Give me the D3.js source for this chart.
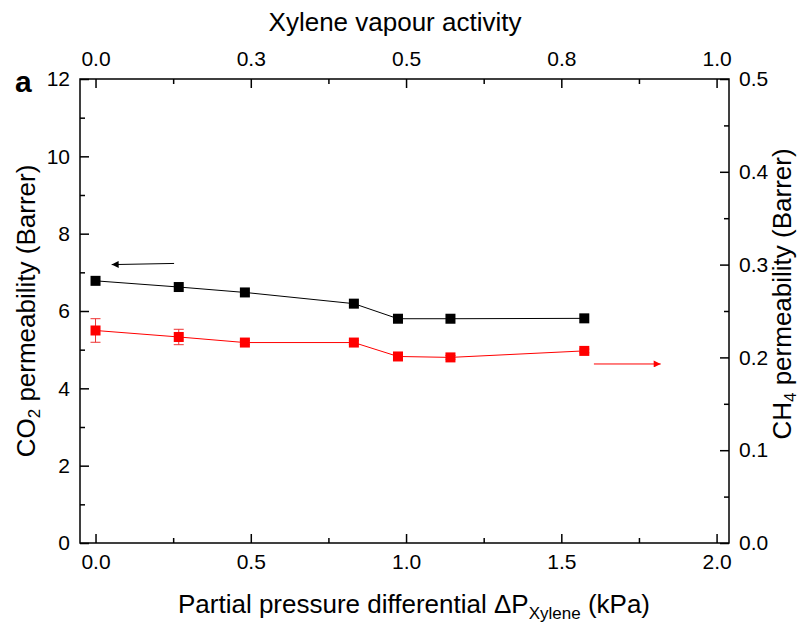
<!DOCTYPE html>
<html>
<head>
<meta charset="utf-8">
<script src="https://cdn.jsdelivr.net/npm/d3@7"></script>
<style>
  body { margin: 0; background: white; }
  text { font-family: "Liberation Sans", Arial, sans-serif; fill: black; }
</style>
</head>
<body>
<div id="chart"></div>
<script>
// data
let pressure = [0, 0.268, 0.481, 0.832, 0.974, 1.143, 1.574]      // kPa
let co2 = [6.78, 6.62, 6.48, 6.19, 5.80, 5.80, 5.81]               // Barrer, left axis
let ch4 = [0.229, 0.222, 0.216, 0.216, 0.201, 0.200, 0.207]        // Barrer, right axis
let ch4Err = [0.0127, 0.0083, 0.002, 0.002, 0.004, 0.002, 0.002]

let bottomTicks = [0, 0.5, 1.0, 1.5, 2.0]
let topTicks = [0, 0.25, 0.5, 0.75, 1.0]
let topTickLabels = ['0.0', '0.3', '0.5', '0.8', '1.0']
let leftTicks = [0, 2, 4, 6, 8, 10, 12]
let rightTicks = [0, 0.1, 0.2, 0.3, 0.4, 0.5]

// arrows pointing to each series' axis: [x0, y0] -> [x1, y1]
let co2Arrow = [[0.253, 7.23], [0.052, 7.20]]
let ch4Arrow = [[1.605, 4.63], [1.82, 4.63]]

// Margin convention
let margin = {top: 79, right: 74, left: 80, bottom: 79}
let width = 803 - margin.left - margin.right
let height = 622 - margin.top - margin.bottom

let svg = d3.select('div#chart')
  .append('svg')
    .attr('width', 803)
    .attr('height', 622)

let defs = svg.append('defs')
defs.append('marker')
    .attr('id', 'headBlack')
    .attr('viewBox', '0 0 10 10')
    .attr('refX', 10).attr('refY', 5)
    .attr('markerWidth', 16).attr('markerHeight', 7)
    .attr('markerUnits', 'userSpaceOnUse')
    .attr('orient', 'auto')
  .append('path')
    .attr('d', 'M0,0 L10,5 L0,10 z')
    .attr('fill', 'black')
defs.append('marker')
    .attr('id', 'headRed')
    .attr('viewBox', '0 0 10 10')
    .attr('refX', 10).attr('refY', 5)
    .attr('markerWidth', 16).attr('markerHeight', 7)
    .attr('markerUnits', 'userSpaceOnUse')
    .attr('orient', 'auto')
  .append('path')
    .attr('d', 'M0,0 L10,5 L0,10 z')
    .attr('fill', 'red')

let g = svg.append('g')
  .attr('transform', `translate(${margin.left}, ${margin.top})`)

let x = d3.scaleLinear().domain([-0.05, 2.04]).range([0, width])
let xTop = d3.scaleLinear().domain([-0.025, 1.02]).range([0, width])
let y = d3.scaleLinear().domain([0, 12]).range([height, 0])
let y2 = d3.scaleLinear().domain([0, 0.5]).range([height, 0])

function styleAxis(sel) {
  sel.select('.domain').remove()
  sel.selectAll('line').attr('stroke', 'black').attr('stroke-width', 1.5)
  sel.selectAll('text').style('font-size', '21px')
}

// minor ticks first, then major with labels (ticks point inward)
g.append('g').attr('transform', `translate(0, ${height})`)
  .call(d3.axisBottom(x).tickValues(d3.range(0.25, 2, 0.5)).tickSize(-5).tickFormat(''))
  .call(styleAxis)
g.append('g').attr('transform', `translate(0, ${height})`)
  .call(d3.axisBottom(x).tickValues(bottomTicks).tickSize(-9).tickPadding(11).tickFormat(d3.format('.1f')))
  .call(styleAxis)

g.append('g')
  .call(d3.axisTop(xTop).tickValues(d3.range(0.125, 1, 0.25)).tickSize(-5).tickFormat(''))
  .call(styleAxis)
g.append('g')
  .call(d3.axisTop(xTop).tickValues(topTicks).tickSize(-9).tickPadding(13).tickFormat((d, i) => topTickLabels[i]))
  .call(styleAxis)

g.append('g')
  .call(d3.axisLeft(y).tickValues(d3.range(1, 12, 2)).tickSize(-5).tickFormat(''))
  .call(styleAxis)
g.append('g')
  .call(d3.axisLeft(y).tickValues(leftTicks).tickSize(-9).tickPadding(10).tickFormat(d3.format('d')))
  .call(styleAxis)

g.append('g').attr('transform', `translate(${width}, 0)`)
  .call(d3.axisRight(y2).tickValues(d3.range(0.05, 0.5, 0.1)).tickSize(-5).tickFormat(''))
  .call(styleAxis)
g.append('g').attr('transform', `translate(${width}, 0)`)
  .call(d3.axisRight(y2).tickValues(rightTicks).tickSize(-9).tickPadding(10).tickFormat(d3.format('.1f')))
  .call(styleAxis)

// frame
g.append('rect')
  .attr('width', width)
  .attr('height', height)
  .attr('fill', 'none')
  .attr('stroke', 'black')
  .attr('stroke-width', 1.5)

// series lines
let co2Line = d3.line().x((d, i) => x(pressure[i])).y(d => y(d))
let ch4Line = d3.line().x((d, i) => x(pressure[i])).y(d => y2(d))

g.append('path')
  .attr('d', co2Line(co2))
  .attr('fill', 'none')
  .attr('stroke', 'black')
  .attr('stroke-width', 1)

g.append('path')
  .attr('d', ch4Line(ch4))
  .attr('fill', 'none')
  .attr('stroke', 'red')
  .attr('stroke-width', 1)

// error bars
let err = g.append('g').attr('stroke', '#e33').attr('stroke-width', 1)
ch4.forEach((v, i) => {
  let cx = x(pressure[i])
  let lo = y2(v - ch4Err[i]), hi = y2(v + ch4Err[i])
  err.append('line').attr('x1', cx).attr('x2', cx).attr('y1', lo).attr('y2', hi)
  err.append('line').attr('x1', cx - 5).attr('x2', cx + 5).attr('y1', lo).attr('y2', lo)
  err.append('line').attr('x1', cx - 5).attr('x2', cx + 5).attr('y1', hi).attr('y2', hi)
})

// square markers
g.append('g').selectAll('rect')
  .data(co2)
  .enter().append('rect')
  .attr('x', (d, i) => x(pressure[i]) - 5)
  .attr('y', d => y(d) - 5)
  .attr('width', 10)
  .attr('height', 10)
  .attr('fill', 'black')

g.append('g').selectAll('rect')
  .data(ch4)
  .enter().append('rect')
  .attr('x', (d, i) => x(pressure[i]) - 5)
  .attr('y', d => y2(d) - 5)
  .attr('width', 10)
  .attr('height', 10)
  .attr('fill', 'red')

// arrows
g.append('line')
  .attr('x1', x(co2Arrow[0][0])).attr('y1', y(co2Arrow[0][1]))
  .attr('x2', x(co2Arrow[1][0])).attr('y2', y(co2Arrow[1][1]))
  .attr('stroke', 'black')
  .attr('stroke-width', 1)
  .attr('marker-end', 'url(#headBlack)')

g.append('line')
  .attr('x1', x(ch4Arrow[0][0])).attr('y1', y(ch4Arrow[0][1]))
  .attr('x2', x(ch4Arrow[1][0])).attr('y2', y(ch4Arrow[1][1]))
  .attr('stroke', 'red')
  .attr('stroke-width', 1)
  .attr('marker-end', 'url(#headRed)')

// titles
svg.append('text')
  .attr('x', 395)
  .attr('y', 31)
  .attr('text-anchor', 'middle')
  .style('font-size', '26px')
  .text('Xylene vapour activity')

let xt = svg.append('text')
  .attr('x', 414)
  .attr('y', 613)
  .attr('text-anchor', 'middle')
  .style('font-size', '26px')
xt.append('tspan').text('Partial pressure differential \u0394P')
xt.append('tspan').attr('dy', 6).style('font-size', '17px').text('Xylene')
xt.append('tspan').attr('dy', -6).text(' (kPa)')

let yl = svg.append('text')
  .attr('transform', `translate(35, ${margin.top + height / 2}) rotate(-90)`)
  .attr('text-anchor', 'middle')
  .style('font-size', '26px')
yl.append('tspan').text('CO')
yl.append('tspan').attr('dy', 5).style('font-size', '17px').text('2')
yl.append('tspan').attr('dy', -5).text(' permeability (Barrer)')

let yr = svg.append('text')
  .attr('transform', 'translate(791, 294) rotate(-90)')
  .attr('text-anchor', 'middle')
  .style('font-size', '26px')
yr.append('tspan').text('CH')
yr.append('tspan').attr('dy', 5).style('font-size', '17px').text('4')
yr.append('tspan').attr('dy', -5).text(' permeability (Barrer)')

svg.append('text')
  .attr('x', 15)
  .attr('y', 92)
  .style('font-size', '30px')
  .style('font-weight', 'bold')
  .text('a')
</script>
</body>
</html>
